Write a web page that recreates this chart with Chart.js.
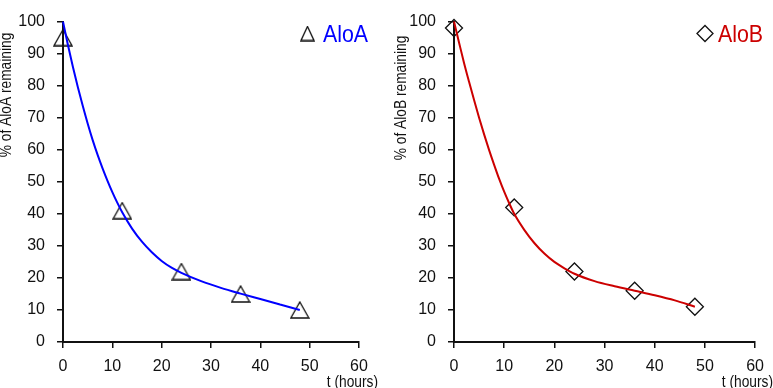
<!DOCTYPE html>
<html lang="en">
<head>
<meta charset="UTF-8">
<title>AloA / AloB remaining</title>
<script src="https://cdn.jsdelivr.net/npm/chart.js"></script>
<style>
  html, body { margin: 0; padding: 0; background: #fff; }
  .wrap { display: flex; width: 773px; height: 388px; }
  .panel { position: relative; height: 388px; }
</style>
</head>
<body>
<div class="wrap">
  <div class="panel" style="width:386px"><canvas id="chartA"></canvas></div>
  <div class="panel" style="width:387px"><canvas id="chartB"></canvas></div>
</div>
<script>
// measured points
const hours = [0, 12, 24, 36, 48];
const aloA = [95, 41, 22, 15, 10];
const aloB = [98, 42, 22, 16, 11];

// fitted curves
const fitHours = [0, 1, 2, 3, 4, 5, 6, 7, 8, 9, 10, 11, 12, 14, 16, 18, 20, 22, 24, 28, 32, 36, 40, 44, 48];
const fitA = [100, 92.7, 85.9, 79.6, 73.7, 68.2, 63.1, 58.5, 54.3, 50.4, 46.8, 43.5, 40.5, 35.4, 31.3, 28, 25.3, 23.2, 21.6, 19, 16.9, 15.1, 13.4, 11.7, 10];
const fitB = [100, 93.5, 87.1, 81.2, 75.5, 70, 64.8, 59.9, 55.3, 50.9, 46.9, 43.3, 40, 35, 30.9, 27.6, 25, 23, 21.3, 19, 17.4, 16, 14.6, 13, 11];

const xTicks = [0, 10, 20, 30, 40, 50, 60];
const yTicks = [0, 10, 20, 30, 40, 50, 60, 70, 80, 90, 100];

const FONT = '"Liberation Sans", Arial, sans-serif';
const INK = '#111';

// open triangle marker, centred on its box like the original
function triangleMarker(w, h) {
    const c = document.createElement('canvas');
    c.width = w + 2; c.height = h + 2;
    const ctx = c.getContext('2d');
    ctx.strokeStyle = '#111';
    ctx.lineWidth = 1.3;
    ctx.beginPath();
    ctx.moveTo(1, h + 1);
    ctx.lineTo(w + 1, h + 1);
    ctx.lineTo(w / 2 + 1, 1);
    ctx.closePath();
    ctx.stroke();
    return c;
}

// Arial Narrow look: squeeze Liberation Sans sideways
function narrowText(ctx, text, x, y, size, squeeze, align, rot) {
    ctx.save();
    ctx.translate(x, y);
    if (rot) ctx.rotate(rot);
    ctx.scale(squeeze, 1);
    ctx.font = size + 'px ' + FONT;
    ctx.textAlign = align;
    ctx.fillText(text, 0, 0);
    ctx.restore();
}

const decor = {
    id: 'decor',
    afterDraw(chart, args, o) {
        const ctx = chart.ctx;
        ctx.save();
        ctx.fillStyle = INK;
        ctx.textBaseline = 'middle';
        narrowText(ctx, o.yTitle, o.yTitleX, o.yTitleY, 16, 0.86, 'center', -Math.PI / 2);
        ctx.textBaseline = 'alphabetic';
        narrowText(ctx, 't (hours)', o.xTitleRight, 387, 16, 0.86, 'right');
        // legend
        if (o.marker === 'triangle') {
            const m = triangleMarker(13, 14);
            ctx.drawImage(m, o.mx - m.width / 2, o.my - m.height / 2);
        } else {
            ctx.strokeStyle = '#111';
            ctx.fillStyle = 'rgba(0,0,0,0)';
            ctx.lineWidth = 1.3;
            Chart.helpers.drawPoint(ctx, { pointStyle: 'rectRot', radius: 8, borderWidth: 1.3 }, o.mx, o.my);
        }
        ctx.fillStyle = o.color;
        narrowText(ctx, o.label, o.lx, 42, 24, 0.89, 'left');
        ctx.restore();
    }
};

function makeChart(id, pts, fit, color, style, yWidth, padRight, d) {
    const markerDs = {
        type: 'scatter',
        data: hours.map((h, i) => ({ x: h, y: pts[i] })),
        showLine: false,
        pointStyle: style === 'triangle' ? triangleMarker(18, 16) : 'rectRot',
        pointRadius: style === 'triangle' ? 10 : 8.5,
        pointBorderColor: '#111',
        pointBackgroundColor: 'rgba(0,0,0,0)',
        pointBorderWidth: 1.3,
        clip: false,
        order: 1
    };
    const curveDs = {
        type: 'line',
        data: fitHours.map((h, i) => ({ x: h, y: fit[i] })),
        borderColor: color,
        borderWidth: 2,
        pointRadius: 0,
        cubicInterpolationMode: 'monotone',
        fill: false,
        clip: false,
        order: 0
    };
    return new Chart(document.getElementById(id), {
        type: 'scatter',
        data: { datasets: [markerDs, curveDs] },
        options: {
            responsive: true,
            maintainAspectRatio: false,
            animation: false,
            layout: { padding: { top: 7, right: padRight, left: 0, bottom: 0 } },
            plugins: { legend: { display: false }, tooltip: { enabled: false }, decor: d },
            scales: {
                x: {
                    type: 'linear', min: 0, max: 60,
                    afterBuildTicks: s => { s.ticks = xTicks.map(v => ({ value: v })); },
                    afterFit: s => { s.height = 46; },
                    grid: { drawOnChartArea: false, drawTicks: true, tickLength: 6, color: INK, lineWidth: 1.5 },
                    border: { color: INK, width: 2 },
                    ticks: { color: INK, font: { family: FONT, size: 16 }, padding: 9, maxRotation: 0 }
                },
                y: {
                    type: 'linear', min: 0, max: 100,
                    afterBuildTicks: s => { s.ticks = yTicks.map(v => ({ value: v })); },
                    afterFit: s => { s.width = yWidth; },
                    grid: { drawOnChartArea: false, drawTicks: true, tickLength: 6, color: INK, lineWidth: 1.5 },
                    border: { color: INK, width: 2 },
                    ticks: { color: INK, font: { family: FONT, size: 16 }, padding: 12 }
                }
            }
        },
        plugins: [decor]
    });
}

makeChart('chartA', aloA, fitA, '#0000ff', 'triangle', 63, 27,
    { yTitle: '% of AloA remaining', yTitleX: 7, yTitleY: 95, xTitleRight: 378,
      marker: 'triangle', mx: 307.5, my: 33.5, label: 'AloA', lx: 323, color: '#0000ff' });
makeChart('chartB', aloB, fitB, '#cc0000', 'diamond', 68, 17,
    { yTitle: '% of AloB remaining', yTitleX: 16, yTitleY: 98, xTitleRight: 387,
      marker: 'diamond', mx: 319, my: 33.5, label: 'AloB', lx: 332, color: '#cc0000' });
</script>
</body>
</html>
